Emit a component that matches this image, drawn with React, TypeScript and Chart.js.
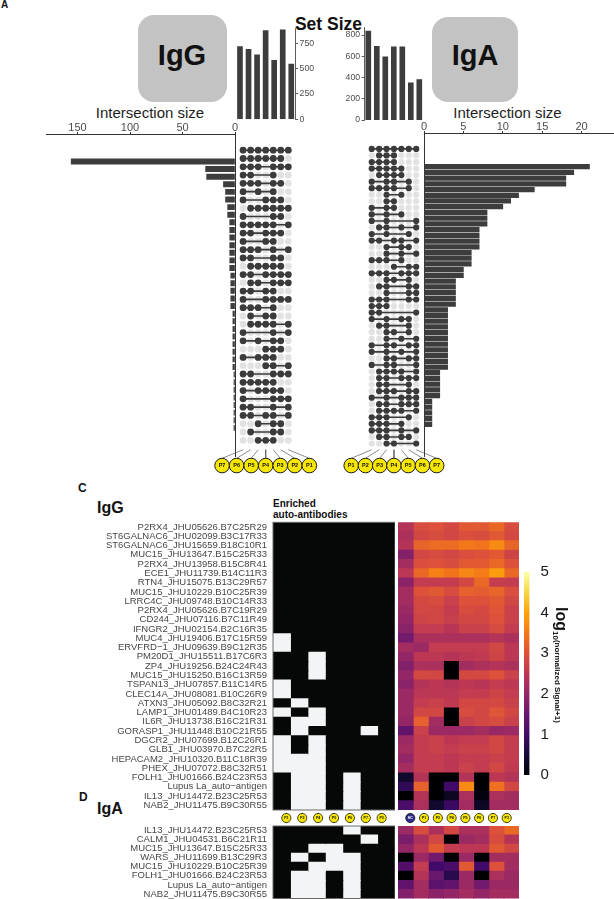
import React, { useEffect, useRef } from 'react';
import { Chart, registerables } from 'chart.js';

Chart.register(...registerables);

const FONT = "'Liberation Sans', Arial, Helvetica, sans-serif";
Chart.defaults.font.family = FONT;

// ---------------- DATA ----------------
const igGSets = ['P7', 'P6', 'P5', 'P4', 'P3', 'P2', 'P1'];
const igGSetSizes = [717, 691, 635, 875, 582, 882, 546];
const igGIntersectionSizes = [156, 28, 27, 11, 9, 9, 7, 7, 5, 5, 5, 5, 5, 5, 5, 4, 4, 4, 4, 4, 2, 2, 2, 2, 2, 2, 2, 2, 1, 1, 1, 1, 1, 1, 1, 1];
const igGMembership = [
  '1111111', '1111110', '1110111', '1100100', '1110110', '1010100', '1001110', '0111111',
  '1000110', '1111101', '1101110', '1001100', '1110101', '1100110', '0111110', '1101111',
  '0110111', '1101100', '1001111', '1110100', '0101100', '0111101', '1000101', '1010110',
  '0001110', '1011100', '0001101', '1100111', '1111100', '1011110', '1000111', '1100101',
  '1101101', '0010110', '0100110', '0011100',
];

const igASets = ['P1', 'P2', 'P3', 'P4', 'P5', 'P6', 'P7'];
const igASetSizes = [837, 694, 594, 688, 688, 350, 381];
const igAIntersectionSizes = [21, 19, 18, 18, 14, 12, 11, 10, 8, 8, 8, 7, 7, 7, 7, 6, 6, 6, 5, 5, 4, 4, 4, 4, 4, 3, 3, 3, 3, 3, 3, 3, 3, 3, 3, 3, 2, 2, 2, 2, 2, 1, 1, 1, 1, 1];
const igAMembership = [
  '1111111', '0111000', '1111000', '1111100', '0111100', '1011010', '1111010', '0010100',
  '0011000', '1011000', '1010100', '1010001', '0110101', '1010010', '1101101', '0010110',
  '0010101', '1110100', '0001011', '1110111', '0011010', '0110011', '0010011', '1110011',
  '1110000', '1100001', '1010110', '0110010', '0011010', '0010101', '1011011', '1010101',
  '0011011', '1011001', '0111101', '0110111', '0110010', '0111011', '1010111', '0110111',
  '0111101', '1110010', '1110100', '1110101', '0110110', '0011001',
];

const enrichedColumns = ['P1', 'P2', 'P4', 'P5', 'P6', 'P7', 'P3'];
const signalColumns = ['HC', 'P1', 'P2', 'P4', 'P5', 'P6', 'P7', 'P3'];

const igGAntigens = [
  'P2RX4_JHU05626.B7C25R29', 'ST6GALNAC6_JHU02099.B3C17R33', 'ST6GALNAC6_JHU15659.B18C10R1',
  'MUC15_JHU13647.B15C25R33', 'P2RX4_JHU13958.B15C8R41', 'ECE1_JHU11739.B14C11R3',
  'RTN4_JHU15075.B13C29R57', 'MUC15_JHU10229.B10C25R39', 'LRRC4C_JHU09748.B10C14R33',
  'P2RX4_JHU05626.B7C19R29', 'CD244_JHU07116.B7C11R49', 'IFNGR2_JHU02154.B2C16R35',
  'MUC4_JHU19406.B17C15R59', 'ERVFRD\u22121_JHU09639.B9C12R35', 'PM20D1_JHU15511.B17C6R3',
  'ZP4_JHU19256.B24C24R43', 'MUC15_JHU15250.B16C13R59', 'TSPAN13_JHU07857.B11C14R5',
  'CLEC14A_JHU08081.B10C26R9', 'ATXN3_JHU05092.B8C32R21', 'LAMP1_JHU01489.B4C10R23',
  'IL6R_JHU13738.B16C21R31', 'GORASP1_JHU11448.B10C21R55', 'DGCR2_JHU07699.B12C26R1',
  'GLB1_JHU03970.B7C22R5', 'HEPACAM2_JHU10320.B11C18R39', 'PHEX_JHU07072.B8C32R51',
  'FOLH1_JHU01666.B24C23R53', 'Lupus La_auto\u2212antigen', 'IL13_JHU14472.B23C25R53',
  'NAB2_JHU11475.B9C30R55',
];
const igGEnriched = [
  '0000000', '0000000', '0000000', '0000000', '0000000', '0000000', '0000000', '0000000',
  '0000000', '0000000', '0000000', '0000000', '1000000', '1000000', '0010000', '0010000',
  '0010000', '1000000', '1000000', '0100000', '1010000', '0110000', '0100010', '1010000',
  '1010000', '1110000', '1110000', '0110100', '0110100', '0110100', '0110100',
];
const igGSignal = [
  [2.4, 2.9, 3.0, 2.85, 3.1, 3.1, 3.3, 2.9],
  [2.3, 2.8, 2.9, 2.8, 2.95, 2.9, 3.1, 2.85],
  [2.4, 3.25, 3.35, 3.35, 3.5, 3.45, 3.7, 3.25],
  [1.8, 2.8, 2.9, 2.8, 2.95, 3.0, 3.1, 2.75],
  [2.2, 2.95, 3.0, 2.9, 3.1, 3.1, 3.3, 3.0],
  [2.5, 3.3, 3.6, 3.45, 3.65, 3.55, 3.9, 3.3],
  [1.9, 2.6, 2.6, 2.6, 2.8, 3.3, 2.6, 2.6],
  [2.2, 3.0, 3.1, 2.9, 3.2, 3.15, 3.25, 2.95],
  [2.2, 2.85, 2.9, 2.7, 3.0, 3.0, 3.1, 2.8],
  [2.1, 2.8, 2.8, 2.6, 2.9, 2.85, 3.05, 2.7],
  [2.0, 2.75, 2.8, 2.65, 2.8, 2.8, 3.0, 2.7],
  [1.9, 2.6, 2.6, 2.45, 2.7, 2.7, 2.9, 2.6],
  [1.6, 2.3, 2.3, 2.3, 2.3, 2.3, 2.4, 2.3],
  [2.2, 2.1, 2.6, 2.6, 2.6, 2.6, 2.8, 2.5],
  [2.0, 2.5, 2.5, 2.4, 2.5, 2.55, 2.75, 2.5],
  [1.8, 2.3, 2.3, 0, 2.2, 2.3, 2.4, 2.3],
  [2.0, 2.85, 2.8, 0, 2.85, 2.85, 3.0, 2.7],
  [1.9, 2.4, 2.5, 2.4, 2.5, 2.45, 2.6, 2.5],
  [2.1, 2.5, 2.5, 2.5, 2.6, 2.6, 2.75, 2.6],
  [2.1, 2.6, 2.7, 2.55, 2.8, 2.8, 2.85, 2.7],
  [2.1, 2.8, 2.8, 0, 2.9, 2.8, 3.05, 2.8],
  [2.0, 3.2, 2.2, 0, 2.7, 2.8, 2.9, 2.7],
  [1.4, 2.7, 2.1, 2.1, 2.1, 2.2, 2.05, 2.1],
  [2.1, 2.6, 2.7, 2.5, 2.6, 2.6, 2.8, 2.6],
  [2.2, 2.6, 2.7, 2.6, 2.7, 2.7, 2.8, 2.6],
  [2.0, 2.6, 2.6, 2.5, 2.6, 2.6, 2.7, 2.6],
  [2.2, 2.6, 2.6, 2.5, 2.7, 2.6, 2.8, 2.55],
  [0.4, 2.4, 0, 0, 2.4, 0, 2.5, 2.4],
  [0.8, 3.2, 0, 1.0, 3.7, 0, 3.4, 2.8],
  [0, 2.4, 0, 0.3, 2.3, 0.1, 2.3, 2.2],
  [1.1, 2.3, 0.4, 0.9, 2.2, 0.3, 2.2, 2.2],
];

const igAAntigens = [
  'IL13_JHU14472.B23C25R53', 'CALM1_JHU04531.B6C21R11', 'MUC15_JHU13647.B15C25R33',
  'WARS_JHU11699.B13C29R3', 'MUC15_JHU10229.B10C25R39', 'FOLH1_JHU01666.B24C23R53',
  'Lupus La_auto\u2212antigen', 'NAB2_JHU11475.B9C30R55',
];
const igAEnriched = ['0000100', '0000010', '0011000', '0101100', '0011100', '0110100', '0110100', '0110100'];
const igASignal = [
  [2.1, 2.9, 2.3, 2.8, 2.3, 2.3, 3.0, 3.3],
  [1.7, 2.3, 2.8, 0, 2.1, 2.2, 2.9, 2.4],
  [2.0, 2.5, 3.1, 2.6, 2.5, 2.5, 3.1, 2.8],
  [0, 2.1, 1.6, 0, 2.1, 0, 2.2, 2.2],
  [1.2, 2.6, 1.0, 1.1, 3.1, 1.0, 3.0, 2.2],
  [0, 2.4, 1.5, 0.7, 2.1, 0, 2.3, 2.1],
  [1.4, 2.2, 1.3, 1.4, 2.1, 1.6, 2.1, 2.1],
  [1.8, 2.2, 1.9, 2.0, 2.2, 2.0, 2.2, 2.2],
];

const colorbarTicks = [0, 1, 2, 3, 4, 5];
const signalMax = 5;

// ---------------- STYLE ----------------
const BAR = '#3d3d3d';
const AXIS = '#333333';
const TICK = '#4d4d4d';
const DOT = '#3b3b3b';
const EMPTY = '#e2e2e2';
const YELLOW = '#f6e600';
const CELL_ON = '#f3f4f6';
const CELL_OFF = '#060707';
const LABEL = '#474747';

const INFERNO = ['#000004', '#160b39', '#420a68', '#6a176e', '#932667', '#bc3754', '#dd513a', '#f37819', '#fca50a', '#f6d746', '#fcffa4'];
function hexRgb(h: string) {
  return [parseInt(h.slice(1, 3), 16), parseInt(h.slice(3, 5), 16), parseInt(h.slice(5, 7), 16)];
}
function inferno(t: number) {
  const tt = Math.max(0, Math.min(1, t));
  const s = tt * (INFERNO.length - 1);
  const i = Math.min(Math.floor(s), INFERNO.length - 2);
  const f = s - i;
  const a = hexRgb(INFERNO[i]);
  const b = hexRgb(INFERNO[i + 1]);
  const c = a.map((v, k) => Math.round(v + (b[k] - v) * f));
  return `rgb(${c[0]},${c[1]},${c[2]})`;
}

// ---------------- GEOMETRY ----------------
function place(L: number, T: number, R: number, B: number, ax: any = {}, pad: any = {}) {
  const a = { left: 0, top: 0, right: 0, bottom: 0, ...ax };
  const p = { left: 0, top: 0, right: 0, bottom: 0, ...pad };
  const left = Math.floor(L - a.left - p.left);
  const top = Math.floor(T - a.top - p.top);
  const right = Math.ceil(R + a.right + p.right);
  const bottom = Math.ceil(B + a.bottom + p.bottom);
  return {
    box: { left, top, width: right - left, height: bottom - top },
    padding: { left: L - a.left - left, top: T - a.top - top, right: right - R - a.right, bottom: bottom - B - a.bottom },
  };
}

const base = (padding: any) => ({
  responsive: false,
  maintainAspectRatio: false,
  animation: false,
  devicePixelRatio: 1,
  events: [],
  layout: { padding },
  plugins: { legend: { display: false }, tooltip: { enabled: false } },
});

const circleTextPlugin = {
  id: 'circleText',
  afterDatasetsDraw(chart: any) {
    const ctx = chart.ctx;
    chart.data.datasets.forEach((ds: any, di: number) => {
      if (!ds.circleLabels) return;
      const meta = chart.getDatasetMeta(di);
      ctx.save();
      ctx.font = ds.circleFont;
      ctx.textAlign = 'center';
      ctx.textBaseline = 'middle';
      meta.data.forEach((el: any, i: number) => {
        ctx.fillStyle = ds.circleTextColors ? ds.circleTextColors[i] : '#111';
        ctx.fillText(ds.circleLabels[i], el.x, el.y + 0.4);
      });
      ctx.restore();
    });
  },
};

const framePlugin = (color: string, width: number) => ({
  id: 'frame',
  afterDatasetsDraw(chart: any) {
    const a = chart.chartArea;
    const ctx = chart.ctx;
    ctx.save();
    ctx.strokeStyle = color;
    ctx.lineWidth = width;
    ctx.strokeRect(a.left, a.top, a.right - a.left, a.bottom - a.top);
    ctx.restore();
  },
});

// ---------------- CHART SPECS ----------------
function setSizeSpec(labels: string[], values: number[], L: number, T: number, R: number, B: number, side: string, max: number, step: number) {
  const ax = side === 'right' ? { right: 22 } : { left: 22 };
  const p = place(L, T, R, B, ax, { top: 8, bottom: 8 });
  return {
    box: p.box,
    config: {
      type: 'bar',
      data: { labels, datasets: [{ data: values, backgroundColor: BAR, barThickness: 5 }] },
      options: {
        ...base(p.padding),
        scales: {
          x: { display: false },
          y: {
            position: side, min: 0, max,
            afterFit: (s: any) => { s.width = 22; },
            ticks: { stepSize: step, includeBounds: false, font: { size: 8.7 }, color: TICK, padding: 1.5 },
            grid: { display: true, drawOnChartArea: false, drawTicks: true, tickLength: 2.5, color: AXIS, lineWidth: 0.8 },
            border: { display: true, color: AXIS, width: 0.8 },
          },
        },
      },
    },
  };
}

function intersectionSpec(values: number[], L: number, T: number, R: number, B: number, reverse: boolean, max: number, step: number, row0: number, rowPx: number, thick: number) {
  const p = place(L, T, R, B, { top: 24 }, { left: 8, right: reverse ? 8 : 0, top: 2, bottom: 4 });
  return {
    box: p.box,
    config: {
      type: 'bar',
      data: { datasets: [{ data: values.map((v, i) => ({ x: v, y: i })), backgroundColor: BAR, barThickness: thick }] },
      options: {
        ...base(p.padding),
        indexAxis: 'y',
        scales: {
          x: {
            type: 'linear', position: 'top', reverse, min: 0, max,
            afterFit: (s: any) => { s.height = 24; },
            ticks: { stepSize: step, includeBounds: false, font: { size: 11, lineHeight: 0.8 }, color: TICK, padding: 0, maxRotation: 0 },
            grid: { display: true, drawOnChartArea: false, drawTicks: true, tickLength: 2, color: AXIS },
            border: { display: true, color: AXIS, width: 1 },
          },
          y: {
            type: 'linear', reverse: true,
            min: (T - row0) / rowPx, max: (B - row0) / rowPx,
            position: reverse ? 'right' : 'left',
            afterFit: (s: any) => { s.width = 0; },
            ticks: { display: false },
            grid: { display: false },
            border: { display: true, color: AXIS, width: 1 },
          },
        },
      },
    },
  };
}

function matrixSpec(membership: string[], labels: string[], g: any) {
  const { L, T, R, B, col0, colPx, row0, rowPx, dotR, fanTop, fanBottom, circleY, circleSpread, circleR } = g;
  const toRow = (py: number) => (py - row0) / rowPx;
  const n = labels.length;
  const mid = (n - 1) / 2;
  const circleX = (i: number) => mid + (i - mid) * circleSpread;
  const datasets: any[] = [];
  labels.forEach((_, i) => {
    datasets.push({
      data: [{ x: i, y: toRow(fanTop) }, { x: circleX(i), y: toRow(fanBottom) }],
      showLine: true, borderColor: '#5a5a5a', borderWidth: 0.7, pointRadius: 0, order: 5,
    });
  });
  const empty: any[] = [];
  const filled: any[] = [];
  membership.forEach((row, r) => {
    const idx: number[] = [];
    row.split('').forEach((ch, c) => {
      if (ch === '1') { filled.push({ x: c, y: r }); idx.push(c); } else empty.push({ x: c, y: r });
    });
    if (idx.length > 1) {
      datasets.push({
        data: [{ x: idx[0], y: r }, { x: idx[idx.length - 1], y: r }],
        showLine: true, borderColor: DOT, borderWidth: 1.6, pointRadius: 0, order: 3,
      });
    }
  });
  datasets.push({ data: empty, pointRadius: dotR, pointBackgroundColor: EMPTY, pointBorderWidth: 0, order: 4 });
  datasets.push({ data: filled, pointRadius: dotR, pointBackgroundColor: DOT, pointBorderWidth: 0, order: 2 });
  datasets.push({
    data: labels.map((_, i) => ({ x: circleX(i), y: toRow(circleY) })),
    pointRadius: circleR, pointBackgroundColor: YELLOW, pointBorderColor: '#1a1a1a', pointBorderWidth: 1, order: 1,
    circleLabels: labels, circleFont: `bold 5.5px ${FONT}`,
  });
  const p = place(L, T, R, B);
  return {
    box: p.box,
    config: {
      type: 'scatter',
      data: { datasets },
      options: {
        ...base(p.padding),
        scales: {
          x: { type: 'linear', display: false, min: (L - col0) / colPx, max: (R - col0) / colPx },
          y: { type: 'linear', display: false, reverse: true, min: toRow(T), max: toRow(B) },
        },
      },
      plugins: [circleTextPlugin],
    },
  };
}

function enrichedSpec(labels: string[], rows: string[], L: number, T: number, R: number, B: number) {
  const p = place(L, T, R, B, { left: 190 }, { top: 12, bottom: 12 });
  const n = enrichedColumns.length;
  const datasets = enrichedColumns.map((col, c) => ({
    label: col,
    data: rows.map(() => [c, c + 1]),
    backgroundColor: rows.map((r) => (r[c] === '1' ? CELL_ON : CELL_OFF)),
    grouped: false, barPercentage: 1, categoryPercentage: 1, borderWidth: 0, inflateAmount: 0.5,
  }));
  return {
    box: p.box,
    config: {
      type: 'bar',
      data: { labels, datasets },
      options: {
        ...base(p.padding),
        indexAxis: 'y',
        scales: {
          x: { type: 'linear', min: 0, max: n, display: false },
          y: {
            type: 'category', position: 'left', offset: true,
            afterFit: (s: any) => { s.width = 190; },
            ticks: { autoSkip: false, font: { size: 9.5 }, color: LABEL, padding: 6 },
            grid: { display: false, drawTicks: false },
            border: { display: false },
          },
        },
      },
      plugins: [framePlugin('#6a6a6a', 1)],
    },
  };
}

function signalSpec(labels: string[], rows: number[][], L: number, T: number, R: number, B: number) {
  const p = place(L, T, R, B);
  const n = signalColumns.length;
  const datasets = signalColumns.map((col, c) => ({
    label: col,
    data: rows.map(() => [c, c + 1]),
    backgroundColor: rows.map((r) => inferno(r[c] / signalMax)),
    grouped: false, barPercentage: 1, categoryPercentage: 1, borderWidth: 0, inflateAmount: 0.5,
  }));
  return {
    box: p.box,
    config: {
      type: 'bar',
      data: { labels, datasets },
      options: {
        ...base(p.padding),
        indexAxis: 'y',
        scales: {
          x: { type: 'linear', min: 0, max: n, display: false },
          y: { type: 'category', display: false, offset: true },
        },
      },
    },
  };
}

function labelRowSpec(labels: string[], fills: string[], texts: string[], L: number, T: number, R: number, B: number, stemTop: number, stemBottom: number, r: number, fontSize: number) {
  // chart y scale uses page-like vertical units: value 0 at T, 1 at B
  const p = place(L, T, R, B);
  const toV = (py: number) => (py - T) / (B - T);
  const mid = toV((stemTop + stemBottom) / 2);
  const datasets: any[] = labels.map((_, i) => ({
    data: [{ x: i + 0.5, y: toV(stemTop) }, { x: i + 0.5, y: toV(stemBottom) }],
    showLine: true, borderColor: '#333', borderWidth: 0.8, pointRadius: 0, order: 2,
  }));
  datasets.push({
    data: labels.map((_, i) => ({ x: i + 0.5, y: mid })),
    pointRadius: r, pointBackgroundColor: fills, pointBorderColor: '#1a1a1a', pointBorderWidth: 0.8, order: 1,
    circleLabels: labels, circleTextColors: texts, circleFont: `bold ${fontSize}px ${FONT}`,
  });
  return {
    box: p.box,
    config: {
      type: 'scatter',
      data: { datasets },
      options: {
        ...base(p.padding),
        scales: {
          x: { type: 'linear', display: false, min: 0, max: labels.length },
          y: { type: 'linear', display: false, reverse: true, min: 0, max: 1 },
        },
      },
      plugins: [circleTextPlugin],
    },
  };
}

function colorbarSpec(L: number, T: number, R: number, B: number) {
  const p = place(L, T, R, B, { right: 20 }, { top: 13, bottom: 13 });
  return {
    box: p.box,
    config: {
      type: 'bar',
      data: {
        labels: [''],
        datasets: [{
          data: [[colorbarTicks[0], signalMax]],
          backgroundColor: (ctx: any) => {
            const chart = ctx.chart;
            if (!chart.chartArea) return '#000';
            const y = chart.scales.y;
            const g = chart.ctx.createLinearGradient(0, y.getPixelForValue(0), 0, y.getPixelForValue(signalMax));
            INFERNO.forEach((c, i) => g.addColorStop(i / (INFERNO.length - 1), c));
            return g;
          },
          barPercentage: 1, categoryPercentage: 1, borderWidth: 0,
        }],
      },
      options: {
        ...base(p.padding),
        scales: {
          x: { display: false },
          y: {
            position: 'right', min: 0, max: signalMax,
            afterFit: (s: any) => { s.width = 20; },
            afterBuildTicks: (s: any) => { s.ticks = colorbarTicks.map((v) => ({ value: v })); },
            ticks: { font: { size: 15 }, color: '#1a1a1a', padding: 3 },
            grid: { display: false },
            border: { display: false },
          },
        },
      },
    },
  };
}

// ---------------- BUILD ----------------
const specs = [
  setSizeSpec(igGSets, igGSetSizes, 235.7, 28.1, 295.55, 119.3, 'right', 900, 250),
  setSizeSpec(igASets, igASetSizes, 364.05, 27.6, 423.55, 120, 'left', 870, 200),
  intersectionSpec(igGIntersectionSizes, 46, 134, 235, 456.7, true, 180, 50, 142.3, 8.7, 5.3),
  intersectionSpec(igAIntersectionSizes, 424, 133, 614, 456.7, false, 24.11, 5, 141, 6.87, 4.6),
  matrixSpec(igGMembership, igGSets, {
    L: 196, T: 134, R: 336, B: 485, col0: 240, colPx: 8.55, row0: 142.3, rowPx: 8.7, dotR: 3.4,
    fanTop: 456.7, fanBottom: 465.7, circleY: 473.3, circleSpread: 16.5 / 8.55, circleR: 7.3,
  }),
  matrixSpec(igAMembership, igASets, {
    L: 330, T: 133, R: 460, B: 485, col0: 368.3, colPx: 8.5, row0: 141, rowPx: 6.87, dotR: 3.1,
    fanTop: 456.7, fanBottom: 465.7, circleY: 473.3, circleSpread: 16.33 / 8.5, circleR: 7.3,
  }),
  enrichedSpec(igGAntigens, igGEnriched, 273, 522.3, 395, 810),
  signalSpec(igGAntigens, igGSignal, 398, 522.3, 519, 810),
  enrichedSpec(igAAntigens, igAEnriched, 273, 826, 395, 898.5),
  signalSpec(igAAntigens, igASignal, 398, 826, 519, 898.5),
  labelRowSpec(enrichedColumns, enrichedColumns.map(() => YELLOW), enrichedColumns.map(() => '#111'), 273, 804, 395, 832, 810, 826, 4.6, 3.6),
  labelRowSpec(signalColumns, signalColumns.map((c) => (c === 'HC' ? '#2e2c8c' : YELLOW)), signalColumns.map((c) => (c === 'HC' ? '#fff' : '#111')), 398, 804, 519, 832, 810, 826, 4.6, 3.6),
  colorbarSpec(524, 572, 529.5, 775),
];

function ChartCanvas({ spec }: { spec: any }) {
  const ref = useRef<HTMLCanvasElement | null>(null);
  useEffect(() => {
    if (!ref.current) return;
    const chart = new Chart(ref.current, spec.config);
    return () => chart.destroy();
  }, [spec]);
  const { left, top, width, height } = spec.box;
  return <canvas ref={ref} width={width} height={height} style={{ position: 'absolute', left, top, width, height }} />;
}

function Txt({ x, y, size, bold, children, align, color, width }: any) {
  const w = width || 200;
  const left = align === 'center' ? x - w / 2 : x;
  return (
    <div style={{
      position: 'absolute', left, top: y - size / 2, width: align === 'center' ? w : undefined,
      textAlign: align === 'center' ? 'center' : 'left', fontSize: size, lineHeight: 1,
      fontWeight: bold ? 700 : 400, color: color || '#111', whiteSpace: 'nowrap',
    }}>{children}</div>
  );
}

export default function App() {
  return (
    <div style={{ position: 'absolute', left: 0, top: 0, width: 614, height: 899, overflow: 'hidden', background: '#fff', fontFamily: FONT }}>
      <Txt x={1} y={5} size={10} bold>A</Txt>
      <div style={{ position: 'absolute', left: 138, top: 15, width: 89, height: 87, background: '#c3c3c3', borderRadius: 16 }} />
      <div style={{ position: 'absolute', left: 432, top: 17, width: 86, height: 85, background: '#c3c3c3', borderRadius: 16 }} />
      <Txt x={182} y={55} size={29} bold align="center">IgG</Txt>
      <Txt x={475} y={55} size={29} bold align="center">IgA</Txt>
      <Txt x={328.5} y={24.5} size={17.5} bold align="center">Set Size</Txt>
      <Txt x={150} y={112.5} size={15} align="center" color="#1e1e1e">Intersection size</Txt>
      <Txt x={507.5} y={112.5} size={15} align="center" color="#1e1e1e">Intersection size</Txt>

      <Txt x={78} y={488} size={12} bold>C</Txt>
      <Txt x={97} y={508} size={16} bold>IgG</Txt>
      <div style={{ position: 'absolute', left: 273, top: 497.5, fontSize: 10, lineHeight: '11px', fontWeight: 700, color: '#111' }}>
        Enriched<br />auto-antibodies
      </div>
      <Txt x={79} y={797} size={12} bold>D</Txt>
      <Txt x={97} y={809} size={16} bold>IgA</Txt>

      {specs.map((s, i) => <ChartCanvas key={i} spec={s} />)}

      <div style={{
        position: 'absolute', left: 569, top: 607, transform: 'rotate(90deg)', transformOrigin: 'left top',
        whiteSpace: 'nowrap', fontWeight: 700, color: '#111', lineHeight: '16px',
      }}>
        <span style={{ fontSize: 16 }}>log</span>
        <span style={{ fontSize: 8, verticalAlign: -3 }}>10</span>
        <span style={{ fontSize: 8, verticalAlign: -1 }}>(normalized Signal+1)</span>
      </div>
    </div>
  );
}
